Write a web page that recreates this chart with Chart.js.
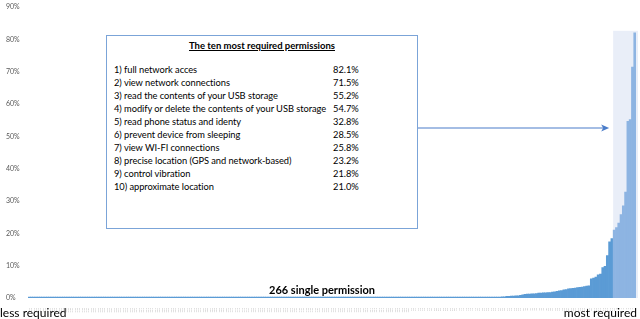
<!DOCTYPE html>
<html><head><meta charset="utf-8">
<script src="https://cdn.jsdelivr.net/npm/chart.js@4.4.0/dist/chart.umd.min.js"></script>
<style>
html,body{margin:0;padding:0;background:#fff;}
#wrap{position:relative;width:640px;height:319px;overflow:hidden;font-family:Lato,"Open Sans",sans-serif;color:#000;}
canvas{position:absolute;left:0;top:0;}
#box{position:absolute;left:106px;top:35px;width:312px;height:194px;border:1px solid #7ba4d8;background:#fff;box-sizing:border-box;}
#box .title{position:absolute;left:0;width:100%;top:3px;text-align:center;font-weight:bold;text-decoration:underline;font-size:9.5px;line-height:13px;}
#box .row{position:absolute;left:7px;font-size:9.3px;line-height:13px;white-space:nowrap;letter-spacing:-0.05px;}
#box .pct{position:absolute;left:226px;font-size:9.3px;line-height:13px;}
.lab{position:absolute;white-space:nowrap;}
</style></head>
<body>
<div id="wrap">
<canvas id="c" width="640" height="319"></canvas>
<div id="box"><div class="title">The ten most required permissions</div></div>
<div class="lab" style="left:222px;width:200px;top:283px;text-align:center;font-weight:bold;font-size:11px;line-height:14px;">266 single permission</div>
<div class="lab" style="left:0px;top:306px;font-size:12px;line-height:14px;">less required</div>
<div class="lab" style="right:3px;top:306px;font-size:12px;line-height:14px;">most required</div>
</div>
<script>
// ---- data ----
const topPermissions = [
  "1) full network acces",
  "2) view network connections",
  "3) read the  contents of your USB storage",
  "4) modify or delete  the contents of your USB storage",
  "5) read phone status and identy",
  "6) prevent device from sleeping",
  "7) view WI-FI connections",
  "8) precise location (GPS and network-based)",
  "9) control vibration",
  "10) approximate location"
];
const topShares = ["82.1%","71.5%","55.2%","54.7%","32.8%","28.5%","25.8%","23.2%","21.8%","21.0%"];

// share of apps requiring each of the 266 permissions, sorted from less to most required (%)
const values = [
  0.3,0.3,0.3,0.3,0.3,0.3,0.3,0.3,0.3,0.3,0.3,0.3,0.3,0.3,0.3,0.3,0.3,0.3,0.3,0.3,
  0.3,0.3,0.3,0.3,0.3,0.3,0.3,0.3,0.3,0.3,0.3,0.3,0.3,0.3,0.3,0.3,0.3,0.3,0.3,0.3,
  0.3,0.3,0.3,0.3,0.3,0.3,0.3,0.3,0.3,0.3,0.3,0.3,0.3,0.3,0.3,0.3,0.3,0.3,0.3,0.3,
  0.3,0.3,0.3,0.3,0.3,0.3,0.3,0.3,0.3,0.3,0.3,0.3,0.3,0.3,0.3,0.3,0.3,0.3,0.3,0.3,
  0.3,0.3,0.3,0.3,0.3,0.3,0.3,0.3,0.3,0.3,0.3,0.3,0.3,0.3,0.3,0.3,0.3,0.3,0.3,0.3,
  0.3,0.3,0.3,0.3,0.3,0.3,0.3,0.3,0.3,0.3,0.3,0.3,0.3,0.3,0.3,0.3,0.3,0.3,0.3,0.3,
  0.3,0.3,0.3,0.3,0.3,0.3,0.3,0.3,0.3,0.3,0.3,0.3,0.3,0.3,0.3,0.3,0.3,0.3,0.3,0.3,
  0.3,0.3,0.3,0.3,0.3,0.3,0.3,0.3,0.3,0.3,0.3,0.3,0.3,0.3,0.3,0.3,0.3,0.3,0.3,0.3,
  0.3,0.3,0.3,0.3,0.3,0.3,0.3,0.3,0.3,0.3,0.3,0.3,0.3,0.3,0.3,0.3,0.3,0.3,0.3,0.3,
  0.3,0.3,0.3,0.3,0.3,0.3,0.3,0.3,0.3,0.3,0.3,0.3,0.3,0.3,0.3,0.3,0.3,0.3,0.3,0.3,
  0.3,0.3,0.3,0.3,0.3,0.3,
  0.3,0.4,0.4,0.5,0.5,0.6,0.6,0.7,0.7,0.8,
  1.0,1.1,1.2,1.2,1.3,1.3,1.4,1.5,1.5,1.6,
  1.6,1.7,1.7,1.8,1.9,2.1,2.2,2.3,2.5,2.6,
  2.8,2.9,3.0,3.1,3.2,3.3,3.4,3.5,3.7,3.8,
  5.9,6.2,6.5,7.2,7.4,9.4,9.8,13.1,17.4,18.4,
  21.0,21.8,23.2,25.8,28.5,32.8,54.7,55.2,71.5,82.1
];
const categories = values.map((v, i) => String(values.length - i));
const yTicks = [0,10,20,30,40,50,60,70,80,90];
const topCount = topShares.length;

// ---- text box ----
const box = document.getElementById('box');
topPermissions.forEach((t, i) => {
  const r = document.createElement('div');
  r.className = 'row'; r.style.top = (26.5 + i * 13.1) + 'px'; r.textContent = t;
  box.appendChild(r);
  const p = document.createElement('div');
  p.className = 'pct'; p.style.top = (26.5 + i * 13.1) + 'px'; p.textContent = topShares[i];
  box.appendChild(p);
});

const firstTop = values.length - topCount;
const highlight = {
  id: 'highlight',
  beforeDatasetsDraw(chart) {
    const el = chart.getDatasetMeta(0).data[firstTop];
    const y = chart.scales.y;
    const ctx = chart.ctx;
    const left = el.x - el.width / 2;
    const top = y.getPixelForValue(Math.max(...values) + 0.6);
    ctx.save();
    ctx.fillStyle = '#e9eef8';
    ctx.fillRect(left, top, chart.chartArea.right - left + 2, y.getPixelForValue(0) - top);
    ctx.restore();
  },
  afterDraw(chart) {
    const el = chart.getDatasetMeta(0).data[firstTop];
    const ctx = chart.ctx;
    const tip = el.x - el.width / 2 - 4;
    const yy = 128;
    ctx.save();
    ctx.strokeStyle = '#4a7cc9'; ctx.fillStyle = '#4a7cc9'; ctx.lineWidth = 1.2;
    ctx.beginPath(); ctx.moveTo(418, yy); ctx.lineTo(tip - 6, yy); ctx.stroke();
    ctx.beginPath(); ctx.moveTo(tip, yy); ctx.lineTo(tip - 8, yy - 3.5); ctx.lineTo(tip - 6, yy); ctx.lineTo(tip - 8, yy + 3.5); ctx.closePath(); ctx.fill();
    ctx.restore();
  }
};

Chart.defaults.font.family = 'Lato, "Open Sans", sans-serif';
new Chart(document.getElementById('c'), {
  type: 'bar',
  data: {
    labels: categories,
    datasets: [{
      data: values,
      backgroundColor: ctx => ctx.dataIndex >= firstTop ? '#8db4e2' : '#5b9bd5',
      borderWidth: 0,
      barPercentage: 1,
      categoryPercentage: 1
    }]
  },
  options: {
    responsive: false,
    animation: false,
    devicePixelRatio: 1,
    layout: { padding: { left: 6, right: 2, top: 0, bottom: 0 } },
    plugins: { legend: { display: false }, tooltip: { enabled: false }, title: { display: false } },
    scales: {
      x: {
        grid: { display: false }, border: { display: false },
        ticks: { autoSkip: false, maxRotation: 90, minRotation: 90, font: { size: 2.6 }, color: '#b4b4b4', padding: 2 },
        afterFit(s) { s.height = 21; }
      },
      y: {
        min: 0, max: 90,
        afterBuildTicks(s) { s.ticks = yTicks.map(v => ({ value: v })); },
        grid: { display: false }, border: { display: false },
        ticks: { crossAlign: 'far', font: { size: 7 }, color: '#595959', callback: v => v + '%' },
        afterFit(s) { s.width = 22; }
      }
    }
  },
  plugins: [highlight]
});
</script>
</body></html>
